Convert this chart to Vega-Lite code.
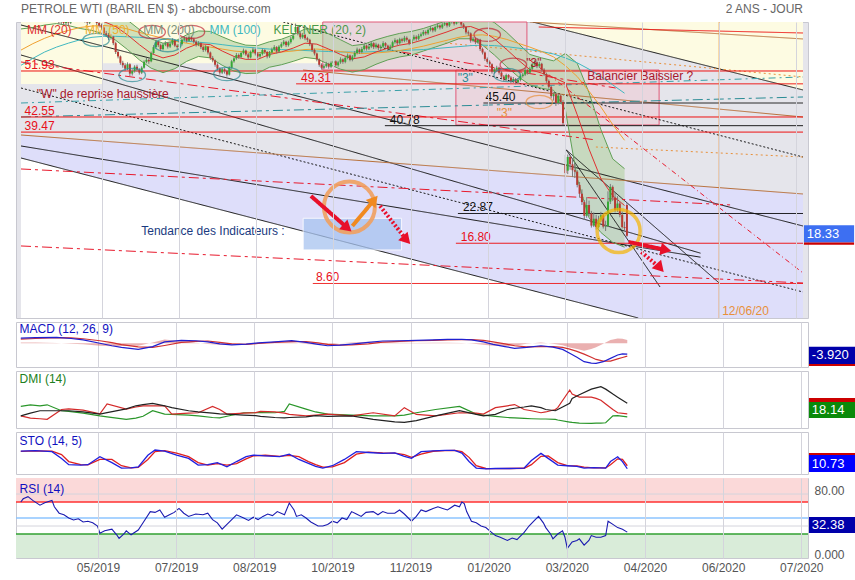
{
"$schema":"https://vega.github.io/schema/vega-lite/v6.json",
"padding":{"left":14,"top":2,"right":0,"bottom":0},
"bounds":"flush",
"spacing":4,
"background":"white",
"resolve":{"scale":{"color":"independent","strokeDash":"independent","strokeWidth":"independent"}},
"config":{"font":"Liberation Sans","view":{"stroke":"#c8c8d0"},"axis":{"gridColor":"#d4d4dc","labelColor":"#555555","labelFontSize":12,"ticks":false,"domain":false}},
"datasets":{
"c":[
{"i":2,"o":63.0,"h":63.9,"l":62.6,"c":63.4},{"i":3,"o":63.4,"h":64.2,"l":63.1,"c":63.8},{"i":4,"o":63.8,"h":64.5,"l":63.4,"c":64.0},{"i":5,"o":64.0,"h":64.3,"l":63.1,"c":63.6},{"i":6,"o":63.6,"h":64.5,"l":63.3,"c":64.1},{"i":7,"o":64.1,"h":65.0,"l":63.8,"c":64.6},{"i":8,"o":64.6,"h":65.6,"l":64.3,"c":65.2},{"i":9,"o":65.2,"h":66.3,"l":64.9,"c":65.9},{"i":10,"o":65.9,"h":66.6,"l":65.5,"c":66.2},{"i":11,"o":66.2,"h":66.5,"l":65.1,"c":65.5},
{"i":12,"o":65.5,"h":65.9,"l":64.8,"c":65.3},{"i":13,"o":65.3,"h":65.5,"l":63.5,"c":63.9},{"i":14,"o":63.9,"h":64.3,"l":62.8,"c":63.2},{"i":15,"o":63.2,"h":63.6,"l":62.1,"c":62.8},{"i":16,"o":62.8,"h":63.1,"l":61.5,"c":61.9},{"i":17,"o":61.9,"h":62.8,"l":61.4,"c":62.4},{"i":18,"o":62.4,"h":62.6,"l":61.2,"c":61.7},{"i":19,"o":61.7,"h":62.5,"l":61.3,"c":62.1},{"i":20,"o":62.1,"h":62.4,"l":61.1,"c":61.8},{"i":21,"o":61.8,"h":62.9,"l":61.5,"c":62.6},
{"i":22,"o":62.6,"h":63.3,"l":62.2,"c":62.9},{"i":23,"o":62.9,"h":63.5,"l":62.5,"c":63.1},{"i":24,"o":63.1,"h":63.4,"l":62.2,"c":62.7},{"i":25,"o":62.7,"h":63.7,"l":62.4,"c":63.4},{"i":26,"o":63.4,"h":63.6,"l":62.5,"c":62.9},{"i":27,"o":62.9,"h":63.1,"l":61.8,"c":62.2},{"i":28,"o":62.2,"h":62.5,"l":61.2,"c":61.8},{"i":29,"o":61.8,"h":62.7,"l":61.5,"c":62.4},{"i":30,"o":62.4,"h":63.2,"l":62.1,"c":62.9},{"i":31,"o":62.9,"h":63.1,"l":62.0,"c":62.5},
{"i":32,"o":62.5,"h":62.7,"l":61.3,"c":61.7},{"i":33,"o":61.7,"h":62.0,"l":60.8,"c":61.2},{"i":34,"o":61.2,"h":61.6,"l":60.3,"c":60.8},{"i":35,"o":60.8,"h":61.0,"l":59.2,"c":59.6},{"i":36,"o":59.6,"h":60.1,"l":58.9,"c":59.3},{"i":37,"o":59.3,"h":59.7,"l":58.2,"c":58.7},{"i":38,"o":58.7,"h":59.4,"l":58.3,"c":58.9},{"i":39,"o":58.9,"h":59.1,"l":57.2,"c":57.6},{"i":40,"o":57.6,"h":57.9,"l":55.4,"c":55.8},{"i":41,"o":55.8,"h":56.2,"l":54.5,"c":54.9},
{"i":42,"o":54.9,"h":55.1,"l":53.2,"c":53.6},{"i":43,"o":53.6,"h":54.0,"l":52.6,"c":53.1},{"i":44,"o":53.1,"h":53.5,"l":51.9,"c":52.4},{"i":45,"o":52.4,"h":53.7,"l":52.1,"c":53.3},{"i":46,"o":53.3,"h":53.5,"l":50.9,"c":51.4},{"i":47,"o":51.4,"h":52.3,"l":51.0,"c":51.9},{"i":48,"o":51.9,"h":53.1,"l":51.6,"c":52.8},{"i":49,"o":52.8,"h":53.2,"l":51.8,"c":52.2},{"i":50,"o":52.2,"h":52.5,"l":51.2,"c":51.6},{"i":51,"o":51.6,"h":52.9,"l":51.3,"c":52.6},
{"i":52,"o":52.6,"h":54.1,"l":52.4,"c":53.8},{"i":53,"o":53.8,"h":54.6,"l":53.5,"c":54.2},{"i":54,"o":54.2,"h":54.5,"l":53.4,"c":53.9},{"i":55,"o":53.9,"h":55.9,"l":53.7,"c":55.6},{"i":56,"o":55.6,"h":57.2,"l":55.3,"c":56.8},{"i":57,"o":56.8,"h":58.3,"l":56.5,"c":57.9},{"i":58,"o":57.9,"h":58.1,"l":56.8,"c":57.2},{"i":59,"o":57.2,"h":57.5,"l":56.0,"c":56.4},{"i":60,"o":56.4,"h":57.6,"l":56.1,"c":57.3},{"i":61,"o":57.3,"h":58.0,"l":57.0,"c":57.6},
{"i":62,"o":57.6,"h":57.8,"l":56.5,"c":56.9},{"i":63,"o":56.9,"h":57.9,"l":56.6,"c":57.5},{"i":64,"o":57.5,"h":58.6,"l":57.2,"c":58.2},{"i":65,"o":58.2,"h":58.4,"l":56.8,"c":57.1},{"i":66,"o":57.1,"h":57.4,"l":56.3,"c":56.8},{"i":67,"o":56.8,"h":57.8,"l":56.5,"c":57.4},{"i":68,"o":57.4,"h":58.6,"l":57.1,"c":58.3},{"i":69,"o":58.3,"h":59.0,"l":58.0,"c":58.6},{"i":70,"o":58.6,"h":58.9,"l":57.7,"c":58.1},{"i":71,"o":58.1,"h":59.2,"l":57.9,"c":58.8},
{"i":72,"o":58.8,"h":59.1,"l":58.0,"c":58.4},{"i":73,"o":58.4,"h":58.7,"l":57.5,"c":57.9},{"i":74,"o":57.9,"h":58.2,"l":56.9,"c":57.3},{"i":75,"o":57.3,"h":58.0,"l":57.0,"c":57.6},{"i":76,"o":57.6,"h":57.8,"l":56.4,"c":56.8},{"i":77,"o":56.8,"h":57.1,"l":55.8,"c":56.2},{"i":78,"o":56.2,"h":57.2,"l":55.9,"c":56.9},{"i":79,"o":56.9,"h":57.0,"l":55.3,"c":55.7},{"i":80,"o":55.7,"h":55.9,"l":54.2,"c":54.6},{"i":81,"o":54.6,"h":55.0,"l":53.7,"c":54.1},
{"i":82,"o":54.1,"h":54.3,"l":52.8,"c":53.2},{"i":83,"o":53.2,"h":53.5,"l":52.0,"c":52.4},{"i":84,"o":52.4,"h":52.7,"l":51.2,"c":51.6},{"i":85,"o":51.6,"h":52.6,"l":51.3,"c":52.3},{"i":86,"o":52.3,"h":52.5,"l":51.4,"c":51.9},{"i":87,"o":51.9,"h":52.2,"l":50.8,"c":51.2},{"i":88,"o":51.2,"h":52.9,"l":51.0,"c":52.6},{"i":89,"o":52.6,"h":54.2,"l":52.4,"c":53.9},{"i":90,"o":53.9,"h":54.9,"l":53.6,"c":54.5},{"i":91,"o":54.5,"h":55.6,"l":54.2,"c":55.2},
{"i":92,"o":55.2,"h":55.5,"l":54.4,"c":54.8},{"i":93,"o":54.8,"h":55.9,"l":54.5,"c":55.6},{"i":94,"o":55.6,"h":56.5,"l":55.3,"c":56.1},{"i":95,"o":56.1,"h":56.3,"l":55.0,"c":55.3},{"i":96,"o":55.3,"h":55.6,"l":54.3,"c":54.7},{"i":97,"o":54.7,"h":56.1,"l":54.5,"c":55.8},{"i":98,"o":55.8,"h":56.7,"l":55.5,"c":56.3},{"i":99,"o":56.3,"h":56.5,"l":55.1,"c":55.5},{"i":100,"o":55.5,"h":55.8,"l":54.5,"c":54.9},{"i":101,"o":54.9,"h":55.8,"l":54.6,"c":55.4},
{"i":102,"o":55.4,"h":56.5,"l":55.1,"c":56.2},{"i":103,"o":56.2,"h":56.4,"l":55.4,"c":55.8},{"i":104,"o":55.8,"h":56.0,"l":54.5,"c":54.9},{"i":105,"o":54.9,"h":56.0,"l":54.6,"c":55.7},{"i":106,"o":55.7,"h":56.7,"l":55.4,"c":56.3},{"i":107,"o":56.3,"h":57.2,"l":56.0,"c":56.8},{"i":108,"o":56.8,"h":57.0,"l":55.5,"c":55.9},{"i":109,"o":55.9,"h":57.2,"l":55.6,"c":56.9},{"i":110,"o":56.9,"h":57.8,"l":56.6,"c":57.4},{"i":111,"o":57.4,"h":58.3,"l":57.1,"c":57.9},
{"i":112,"o":57.9,"h":58.1,"l":56.8,"c":57.2},{"i":113,"o":57.2,"h":58.1,"l":56.9,"c":57.8},{"i":114,"o":57.8,"h":58.9,"l":57.5,"c":58.5},{"i":115,"o":58.5,"h":59.5,"l":58.2,"c":59.1},{"i":116,"o":59.9,"h":61.6,"l":59.6,"c":60.9},{"i":117,"o":60.9,"h":61.1,"l":59.2,"c":59.6},{"i":118,"o":59.6,"h":59.9,"l":58.4,"c":58.8},{"i":119,"o":58.8,"h":59.7,"l":58.5,"c":59.3},{"i":120,"o":59.3,"h":59.5,"l":58.2,"c":58.6},{"i":121,"o":58.6,"h":58.9,"l":57.8,"c":58.3},
{"i":122,"o":58.3,"h":58.5,"l":57.0,"c":57.4},{"i":123,"o":57.4,"h":57.6,"l":55.8,"c":56.2},{"i":124,"o":56.2,"h":56.5,"l":55.1,"c":55.5},{"i":125,"o":55.5,"h":55.7,"l":53.9,"c":54.3},{"i":126,"o":54.3,"h":54.5,"l":52.8,"c":53.2},{"i":127,"o":53.2,"h":53.5,"l":52.2,"c":52.6},{"i":128,"o":52.6,"h":53.3,"l":52.3,"c":52.9},{"i":129,"o":52.9,"h":53.8,"l":52.6,"c":53.4},{"i":130,"o":53.4,"h":53.6,"l":52.4,"c":52.8},{"i":131,"o":52.8,"h":53.9,"l":52.5,"c":53.6},
{"i":132,"o":53.6,"h":54.3,"l":53.3,"c":53.9},{"i":133,"o":53.9,"h":54.1,"l":52.8,"c":53.1},{"i":134,"o":53.1,"h":54.0,"l":52.8,"c":53.7},{"i":135,"o":53.7,"h":54.7,"l":53.4,"c":54.3},{"i":136,"o":54.3,"h":54.5,"l":53.4,"c":53.8},{"i":137,"o":53.8,"h":54.9,"l":53.5,"c":54.6},{"i":138,"o":54.6,"h":55.5,"l":54.3,"c":55.1},{"i":139,"o":55.1,"h":55.3,"l":53.9,"c":54.2},{"i":140,"o":54.2,"h":55.2,"l":53.9,"c":54.9},{"i":141,"o":54.9,"h":56.0,"l":54.6,"c":55.6},
{"i":142,"o":55.6,"h":56.7,"l":55.3,"c":56.3},{"i":143,"o":56.3,"h":56.5,"l":55.4,"c":55.8},{"i":144,"o":55.8,"h":56.8,"l":55.5,"c":56.4},{"i":145,"o":56.4,"h":57.5,"l":56.1,"c":57.1},{"i":146,"o":57.1,"h":57.3,"l":56.1,"c":56.5},{"i":147,"o":56.5,"h":57.3,"l":56.2,"c":56.9},{"i":148,"o":56.9,"h":58.0,"l":56.6,"c":57.6},{"i":149,"o":57.6,"h":57.8,"l":56.4,"c":56.8},{"i":150,"o":56.8,"h":57.7,"l":56.5,"c":57.3},{"i":151,"o":57.3,"h":57.5,"l":56.2,"c":56.6},
{"i":152,"o":56.6,"h":57.3,"l":56.2,"c":56.9},{"i":153,"o":56.9,"h":58.0,"l":56.6,"c":57.6},{"i":154,"o":57.6,"h":57.8,"l":56.7,"c":57.1},{"i":155,"o":57.1,"h":57.3,"l":56.0,"c":56.4},{"i":156,"o":56.4,"h":57.3,"l":56.1,"c":56.9},{"i":157,"o":56.9,"h":58.1,"l":56.6,"c":57.8},{"i":158,"o":57.8,"h":58.6,"l":57.5,"c":58.2},{"i":159,"o":58.2,"h":58.4,"l":57.2,"c":57.6},{"i":160,"o":57.6,"h":58.7,"l":57.3,"c":58.4},{"i":161,"o":58.4,"h":58.7,"l":57.7,"c":58.1},
{"i":162,"o":58.1,"h":59.1,"l":57.8,"c":58.7},{"i":163,"o":58.7,"h":59.0,"l":57.9,"c":58.3},{"i":164,"o":58.3,"h":58.5,"l":57.2,"c":57.6},{"i":165,"o":57.6,"h":58.7,"l":57.3,"c":58.4},{"i":166,"o":58.4,"h":59.3,"l":58.1,"c":58.9},{"i":167,"o":58.9,"h":59.2,"l":58.1,"c":58.5},{"i":168,"o":58.5,"h":59.5,"l":58.2,"c":59.1},{"i":169,"o":59.1,"h":59.8,"l":58.8,"c":59.4},{"i":170,"o":59.4,"h":60.3,"l":59.1,"c":59.9},{"i":171,"o":59.9,"h":60.2,"l":59.2,"c":59.6},
{"i":172,"o":59.6,"h":60.6,"l":59.3,"c":60.3},{"i":173,"o":60.3,"h":61.1,"l":60.0,"c":60.7},{"i":174,"o":60.7,"h":60.9,"l":59.8,"c":60.2},{"i":175,"o":60.2,"h":61.2,"l":59.9,"c":60.9},{"i":176,"o":60.9,"h":61.6,"l":60.6,"c":61.2},{"i":177,"o":61.2,"h":61.4,"l":60.4,"c":60.8},{"i":178,"o":60.8,"h":61.7,"l":60.5,"c":61.4},{"i":179,"o":61.4,"h":62.1,"l":61.1,"c":61.7},{"i":180,"o":61.7,"h":61.9,"l":60.8,"c":61.2},{"i":181,"o":61.2,"h":62.3,"l":60.9,"c":61.9},
{"i":182,"o":61.9,"h":62.8,"l":61.6,"c":62.4},{"i":183,"o":62.4,"h":62.6,"l":61.2,"c":61.6},{"i":184,"o":61.6,"h":63.6,"l":61.4,"c":62.8},{"i":185,"o":62.8,"h":63.0,"l":61.7,"c":62.1},{"i":186,"o":62.1,"h":62.3,"l":61.0,"c":61.4},{"i":187,"o":61.4,"h":61.7,"l":60.5,"c":60.9},{"i":188,"o":60.9,"h":61.1,"l":59.4,"c":59.8},{"i":189,"o":59.8,"h":60.2,"l":59.1,"c":59.6},{"i":190,"o":59.6,"h":59.8,"l":57.7,"c":58.1},{"i":191,"o":58.1,"h":58.9,"l":57.8,"c":58.5},
{"i":192,"o":58.5,"h":58.7,"l":57.4,"c":57.8},{"i":193,"o":57.8,"h":58.6,"l":57.5,"c":58.3},{"i":194,"o":58.3,"h":58.5,"l":56.0,"c":56.4},{"i":195,"o":56.4,"h":56.7,"l":55.3,"c":55.7},{"i":196,"o":55.7,"h":55.9,"l":54.0,"c":54.4},{"i":197,"o":54.4,"h":54.7,"l":53.4,"c":53.8},{"i":198,"o":53.8,"h":54.1,"l":52.9,"c":53.3},{"i":199,"o":53.3,"h":53.5,"l":51.4,"c":51.8},{"i":200,"o":51.8,"h":52.6,"l":51.4,"c":52.2},{"i":201,"o":52.2,"h":53.0,"l":51.9,"c":52.6},
{"i":202,"o":52.6,"h":52.8,"l":51.2,"c":51.6},{"i":203,"o":51.6,"h":51.9,"l":50.4,"c":50.8},{"i":204,"o":50.8,"h":51.1,"l":49.8,"c":50.2},{"i":205,"o":50.2,"h":51.4,"l":49.9,"c":51.1},{"i":206,"o":51.1,"h":51.3,"l":50.2,"c":50.6},{"i":207,"o":50.6,"h":50.9,"l":49.4,"c":49.8},{"i":208,"o":49.8,"h":50.7,"l":49.5,"c":50.3},{"i":209,"o":50.3,"h":50.5,"l":49.2,"c":49.6},{"i":210,"o":49.6,"h":50.5,"l":49.3,"c":50.1},{"i":211,"o":50.1,"h":51.2,"l":49.8,"c":50.9},
{"i":212,"o":50.9,"h":51.6,"l":50.6,"c":51.2},{"i":213,"o":51.2,"h":52.5,"l":50.9,"c":52.1},{"i":214,"o":52.1,"h":52.3,"l":51.2,"c":51.6},{"i":215,"o":51.6,"h":52.8,"l":51.3,"c":52.4},{"i":216,"o":52.4,"h":53.6,"l":52.1,"c":53.3},{"i":217,"o":53.3,"h":54.1,"l":53.0,"c":53.7},{"i":218,"o":53.7,"h":53.9,"l":52.5,"c":52.9},{"i":219,"o":52.9,"h":53.8,"l":52.6,"c":53.4},{"i":220,"o":53.4,"h":53.6,"l":51.8,"c":52.2},{"i":221,"o":52.2,"h":52.5,"l":50.9,"c":51.3},
{"i":222,"o":51.3,"h":51.5,"l":49.5,"c":49.9},{"i":223,"o":49.9,"h":50.2,"l":48.3,"c":48.7},{"i":224,"o":48.7,"h":49.0,"l":46.4,"c":46.8},{"i":225,"o":46.8,"h":47.6,"l":45.9,"c":47.2},{"i":226,"o":47.2,"h":47.5,"l":44.8,"c":45.4},{"i":227,"o":45.4,"h":47.3,"l":45.1,"c":46.9},{"i":228,"o":46.9,"h":47.1,"l":45.2,"c":45.6},{"i":229,"o":45.6,"h":46.0,"l":40.9,"c":41.3},{"i":230,"o":32.9,"h":34.8,"l":27.3,"c":31.1},{"i":231,"o":31.6,"h":34.9,"l":30.9,"c":34.4},
{"i":232,"o":34.4,"h":34.6,"l":31.8,"c":32.9},{"i":233,"o":32.9,"h":33.9,"l":30.3,"c":31.7},{"i":234,"o":31.7,"h":33.2,"l":30.1,"c":31.4},{"i":235,"o":31.4,"h":31.7,"l":28.2,"c":28.7},{"i":236,"o":28.7,"h":29.3,"l":26.1,"c":26.9},{"i":237,"o":26.9,"h":27.8,"l":24.6,"c":25.2},{"i":238,"o":25.2,"h":25.6,"l":21.6,"c":22.4},{"i":239,"o":22.4,"h":26.2,"l":22.0,"c":24.6},{"i":240,"o":24.6,"h":25.5,"l":22.3,"c":22.9},{"i":241,"o":22.9,"h":23.4,"l":20.0,"c":20.4},
{"i":242,"o":20.4,"h":23.1,"l":20.1,"c":21.8},{"i":243,"o":21.8,"h":22.6,"l":19.6,"c":20.1},{"i":244,"o":20.1,"h":22.4,"l":19.9,"c":21.6},{"i":245,"o":21.6,"h":23.2,"l":21.1,"c":22.5},{"i":246,"o":22.5,"h":22.9,"l":19.8,"c":20.2},{"i":247,"o":20.2,"h":21.4,"l":19.3,"c":20.3},{"i":248,"o":20.3,"h":27.4,"l":20.1,"c":25.3},{"i":249,"o":25.3,"h":28.9,"l":24.8,"c":28.3},{"i":250,"o":28.3,"h":28.6,"l":25.4,"c":26.1},{"i":251,"o":26.1,"h":27.1,"l":23.1,"c":23.6},
{"i":252,"o":23.6,"h":26.4,"l":23.2,"c":24.9},{"i":253,"o":24.9,"h":25.3,"l":22.1,"c":22.6},{"i":254,"o":22.6,"h":23.3,"l":19.8,"c":20.1},{"i":255,"o":20.1,"h":21.2,"l":19.2,"c":19.9},{"i":256,"o":24.6,"h":25.0,"l":18.1,"c":18.33}
],
"ma":[
{"i":0,"m20":63.0,"ku":65.5,"kl":60.5,"m50":56.2,"m100":53.1},{"i":5,"m20":63.3,"ku":65.8,"kl":60.8,"m50":57.5,"m100":54.5},{"i":10,"m20":63.8,"ku":66.3,"kl":61.3,"m50":58.6,"m100":55.8},{"i":15,"m20":64.2,"ku":66.8,"kl":61.6,"m50":59.5,"m100":56.8},{"i":20,"m20":63.8,"ku":66.4,"kl":61.2,"m50":60.2,"m100":57.6},{"i":25,"m20":63.2,"ku":65.8,"kl":60.6,"m50":60.8,"m100":58.3},{"i":30,"m20":62.6,"ku":65.0,"kl":60.2,"m50":61.1,"m100":58.8},{"i":35,"m20":62.0,"ku":64.5,"kl":59.5,"m50":61.2,"m100":59.0},{"i":40,"m20":61.0,"ku":63.8,"kl":58.2,"m50":61.0,"m100":59.0},{"i":45,"m20":59.3,"ku":62.3,"kl":56.3,"m50":60.5,"m100":58.9},
{"i":50,"m20":57.3,"ku":60.4,"kl":54.2,"m50":59.8,"m100":58.8},{"i":55,"m20":55.5,"ku":58.5,"kl":52.5,"m50":59.2,"m100":58.6},{"i":60,"m20":54.6,"ku":57.6,"kl":51.6,"m50":58.6,"m100":58.4},{"i":65,"m20":55.2,"ku":58.0,"kl":52.4,"m50":58.0,"m100":58.2},{"i":70,"m20":56.6,"ku":59.3,"kl":53.9,"m50":57.6,"m100":58.0},{"i":75,"m20":57.5,"ku":60.1,"kl":54.9,"m50":57.2,"m100":57.8},{"i":80,"m20":57.3,"ku":60.0,"kl":54.6,"m50":56.8,"m100":57.6},{"i":85,"m20":56.0,"ku":58.9,"kl":53.1,"m50":56.4,"m100":57.3},{"i":90,"m20":54.9,"ku":57.9,"kl":51.9,"m50":56.0,"m100":57.0},{"i":95,"m20":54.3,"ku":57.2,"kl":51.4,"m50":55.8,"m100":56.8},
{"i":100,"m20":54.3,"ku":57.1,"kl":51.5,"m50":55.7,"m100":56.6},{"i":105,"m20":55.3,"ku":57.9,"kl":52.7,"m50":55.7,"m100":56.4},{"i":110,"m20":55.8,"ku":58.4,"kl":53.2,"m50":55.8,"m100":56.3},{"i":115,"m20":56.6,"ku":59.3,"kl":53.9,"m50":56.0,"m100":56.2},{"i":120,"m20":57.6,"ku":60.5,"kl":54.7,"m50":56.3,"m100":56.1},{"i":125,"m20":57.4,"ku":60.4,"kl":54.4,"m50":56.4,"m100":56.0},{"i":130,"m20":56.4,"ku":59.5,"kl":53.3,"m50":56.2,"m100":55.9},{"i":135,"m20":55.3,"ku":58.3,"kl":52.3,"m50":55.9,"m100":55.8},{"i":140,"m20":54.4,"ku":57.1,"kl":51.7,"m50":55.6,"m100":55.8},{"i":145,"m20":54.8,"ku":57.4,"kl":52.2,"m50":55.5,"m100":55.8},
{"i":150,"m20":55.8,"ku":58.3,"kl":53.3,"m50":55.6,"m100":55.9},{"i":155,"m20":56.6,"ku":59.0,"kl":54.2,"m50":55.8,"m100":56.0},{"i":160,"m20":57.2,"ku":59.6,"kl":54.8,"m50":56.1,"m100":56.1},{"i":165,"m20":57.6,"ku":60.0,"kl":55.2,"m50":56.5,"m100":56.2},{"i":170,"m20":58.3,"ku":60.6,"kl":56.0,"m50":57.0,"m100":56.3},{"i":175,"m20":59.1,"ku":61.4,"kl":56.8,"m50":57.6,"m100":56.5},{"i":180,"m20":59.9,"ku":62.2,"kl":57.6,"m50":58.2,"m100":56.7},{"i":185,"m20":60.8,"ku":63.1,"kl":58.5,"m50":58.8,"m100":56.9},{"i":190,"m20":61.0,"ku":63.5,"kl":58.5,"m50":59.2,"m100":57.1},{"i":195,"m20":60.1,"ku":63.0,"kl":57.2,"m50":59.3,"m100":57.2},
{"i":200,"m20":58.5,"ku":61.8,"kl":55.2,"m50":59.0,"m100":57.1},{"i":205,"m20":56.4,"ku":59.9,"kl":52.9,"m50":58.4,"m100":56.9},{"i":210,"m20":54.2,"ku":57.6,"kl":50.8,"m50":57.6,"m100":56.6},{"i":215,"m20":52.2,"ku":55.3,"kl":49.1,"m50":56.8,"m100":56.3},{"i":220,"m20":51.5,"ku":54.6,"kl":48.4,"m50":55.9,"m100":55.9},{"i":225,"m20":50.6,"ku":54.0,"kl":48.0,"m50":54.8,"m100":55.4},{"i":230,"m20":49.5,"ku":55.5,"kl":44.0,"m50":53.0,"m100":54.6},{"i":235,"m20":43.0,"ku":53.5,"kl":30.0,"m50":50.8,"m100":53.6},{"i":240,"m20":36.0,"ku":47.5,"kl":22.0,"m50":47.8,"m100":52.3},{"i":245,"m20":30.0,"ku":40.0,"kl":19.0,"m50":44.6,"m100":50.8},
{"i":250,"m20":26.5,"ku":34.0,"kl":17.0,"m50":41.0,"m100":49.1},{"i":255,"m20":24.5,"ku":32.0,"kl":16.0,"m50":37.8,"m100":47.4}
],
"tl":[
{"id":"L1","k":"black","i":0,"v":34.19},{"id":"L1","k":"black","i":260.8,"v":1.56},
{"id":"L2","k":"black","i":0,"v":36.64},{"id":"L2","k":"black","i":287.1,"v":13.96},
{"id":"L3","k":"black","i":0,"v":61.31},{"id":"L3","k":"black","i":330.4,"v":20.32},
{"id":"L4","k":"black","i":216.25,"v":61.92},{"id":"L4","k":"black","i":330.4,"v":48.06},
{"id":"L5","k":"black","i":230.4,"v":35.82},{"id":"L5","k":"black","i":270,"v":7.88},
{"id":"L6","k":"black","i":230.4,"v":35.82},{"id":"L6","k":"black","i":295,"v":8.7},
{"id":"L7","k":"black","i":0,"v":55.19},{"id":"L7","k":"black","i":287.1,"v":14.78},
{"id":"D1","k":"dot","i":0,"v":48.46},{"id":"D1","k":"dot","i":330.4,"v":6.86},
{"id":"D2","k":"dot","i":110.8,"v":61.92},{"id":"D2","k":"dot","i":330.4,"v":34.39},
{"id":"B1","k":"brown","i":0,"v":38.88},{"id":"B1","k":"brown","i":330.4,"v":26.85},
{"id":"B2","k":"brown","i":119.2,"v":52.13},{"id":"B2","k":"brown","i":330.4,"v":42.55},
{"id":"B3","k":"brown","i":215,"v":61.92},{"id":"B3","k":"brown","i":330.4,"v":58.46},
{"id":"HR0","k":"hred","i":218.75,"v":60.9},{"id":"HR0","k":"hred","i":330.4,"v":59.68},
{"id":"R1","k":"reddd","i":0,"v":53.77},{"id":"R1","k":"reddd","i":242.9,"v":37.86},
{"id":"R2","k":"reddd","i":160.8,"v":55.8},{"id":"R2","k":"reddd","i":251.25,"v":48.46},
{"id":"R3","k":"reddd","i":0,"v":31.95},{"id":"R3","k":"reddd","i":300.4,"v":24.6},
{"id":"R4","k":"reddd","i":0,"v":16.25},{"id":"R4","k":"reddd","i":330.4,"v":8.7},
{"id":"R5","k":"redthin","i":215,"v":54.17},{"id":"R5","k":"redthin","i":330.4,"v":10.74},
{"id":"T1","k":"teal","i":0,"v":42.55},{"id":"T1","k":"teal","i":330.4,"v":46.63},
{"id":"T2","k":"tealthin","i":0,"v":45.4},{"id":"T2","k":"tealthin","i":330.4,"v":50.71},
{"id":"O1","k":"odot","i":179.2,"v":57.64},{"id":"O1","k":"odot","i":330.4,"v":50.71},
{"id":"O2","k":"odot","i":242.9,"v":36.43},{"id":"O2","k":"odot","i":330.4,"v":34.39},
{"id":"H1","k":"hred","i":0,"v":51.93},{"id":"H1","k":"hred","i":330.4,"v":51.93},
{"id":"H2","k":"hred","i":116.25,"v":49.31},{"id":"H2","k":"hred","i":330.4,"v":49.31},
{"id":"H3","k":"hred","i":0,"v":42.55},{"id":"H3","k":"hred","i":330.4,"v":42.55},
{"id":"H4","k":"hred","i":0,"v":39.47},{"id":"H4","k":"hred","i":330.4,"v":39.47},
{"id":"H5","k":"hred","i":183.75,"v":16.8},{"id":"H5","k":"hred","i":330.4,"v":16.8},
{"id":"H6","k":"hred2","i":123.3,"v":8.6},{"id":"H6","k":"hred2","i":330.4,"v":8.6},
{"id":"H7","k":"hblack","i":195.4,"v":45.4},{"id":"H7","k":"hblack","i":330.4,"v":45.4},
{"id":"H8","k":"hblack","i":153.75,"v":40.78},{"id":"H8","k":"hblack","i":330.4,"v":40.78},
{"id":"H9","k":"hblack","i":184.6,"v":22.87},{"id":"H9","k":"hblack","i":330.4,"v":22.87},
{"id":"V1","k":"vorange","i":295,"v":61.92},{"id":"V1","k":"vorange","i":295.001,"v":1.56}
],
"lab":[
{"t":"51.93","k":"hred","i":1.5,"v":51.93},{"t":"49.31","k":"hred","i":118.3,"v":49.31},{"t":"42.55","k":"hred","i":1.5,"v":42.55},{"t":"39.47","k":"hred","i":1.5,"v":39.47},{"t":"16.80","k":"hred","i":185.8,"v":16.8},{"t":"8.60","k":"hred","i":124.6,"v":8.6},{"t":"45.40","k":"hblack","i":196.25,"v":45.4},{"t":"40.78","k":"hblack","i":155.8,"v":40.78},{"t":"22.87","k":"hblack","i":186.7,"v":22.87}
],
"ann":[
{"t":"MM (20)","k":"mm20","i":2.5,"v":60.29},{"t":"MM (50)","k":"mm50","i":27,"v":60.29},{"t":"MM (200)","k":"mm200","i":51.7,"v":60.29},{"t":"MM (100)","k":"mm100","i":79.6,"v":60.29},{"t":"KELTNER (20, 2)","k":"kelt","i":106.7,"v":60.29},
{"t":"\"W\" de reprise haussière","k":"dred","i":6.7,"v":47.18},{"t":"Balancier Baissier ?","k":"dred","i":239.2,"v":50.91},{"t":"\"3\"","k":"teal","i":184.5,"v":50.44},{"t":"\"3\"","k":"dred","i":213.5,"v":53.5},{"t":"\"3\"","k":"orange","i":201,"v":43.3},{"t":"Tendance des Indicateurs :","k":"navy","i":50.8,"v":19.3},{"t":"12/06/20","k":"orange","i":296.25,"v":2.99}
],
"ell":[
{"k":"teal","i":31.7,"v":58.25},{"k":"teal","i":62,"v":57.2},{"k":"teal","i":47,"v":51.1},{"k":"teal","i":87,"v":51.3},{"k":"teal","i":205.4,"v":51.1},{"k":"dred","i":55.4,"v":59.9},{"k":"dred","i":72,"v":59.9},{"k":"dred","i":197,"v":59.3},{"k":"dred","i":208,"v":53.2},{"k":"orange","i":219,"v":45.6}
],
"arr":[
{"id":"a1","k":"red","i":122.5,"v":26.44},{"id":"a1","k":"red","i":137.9,"v":19.92},
{"id":"a2","k":"orange","i":140,"v":20.32},{"id":"a2","k":"orange","i":149.2,"v":25.63},
{"id":"a3","k":"reddot","i":151.7,"v":24.4},{"id":"a3","k":"reddot","i":162.9,"v":17.47},
{"id":"a4","k":"red","i":256.7,"v":17.06},{"id":"a4","k":"red","i":272.5,"v":15.43},
{"id":"a5","k":"reddot","i":262.1,"v":15.02},{"id":"a5","k":"reddot","i":270,"v":11.76}
],
"macd":[
{"i":2,"m":1.8,"s":1.5,"h":0.3},{"i":8,"m":2.0,"s":1.7,"h":0.3},{"i":17,"m":2.1,"s":2.0,"h":0.1},{"i":23,"m":1.7,"s":1.9,"h":-0.2},{"i":28,"m":1.2,"s":1.6,"h":-0.4},{"i":35,"m":0.0,"s":0.9,"h":-0.9},{"i":40,"m":-0.9,"s":0.2,"h":-1.1},{"i":44,"m":-1.5,"s":-0.5,"h":-1.0},{"i":51,"m":-2.2,"s":-1.3,"h":-0.9},{"i":57,"m":-1.2,"s":-1.5,"h":0.3},
{"i":62,"m":0.5,"s":-0.8,"h":1.3},{"i":69,"m":1.0,"s":0.3,"h":0.7},{"i":75,"m":0.9,"s":0.7,"h":0.2},{"i":80,"m":0.5,"s":0.8,"h":-0.3},{"i":85,"m":-0.2,"s":0.3,"h":-0.5},{"i":90,"m":-0.6,"s":-0.2,"h":-0.4},{"i":96,"m":-0.3,"s":-0.4,"h":0.1},{"i":101,"m":0.1,"s":-0.1,"h":0.2},{"i":108,"m":0.5,"s":0.3,"h":0.2},{"i":115,"m":0.9,"s":0.6,"h":0.3},
{"i":121,"m":0.3,"s":0.6,"h":-0.3},{"i":126,"m":-0.4,"s":0.1,"h":-0.5},{"i":130,"m":-0.9,"s":-0.4,"h":-0.5},{"i":135,"m":-0.7,"s":-0.7,"h":0.0},{"i":140,"m":-0.3,"s":-0.6,"h":0.3},{"i":147,"m":0.3,"s":-0.2,"h":0.5},{"i":153,"m":0.8,"s":0.4,"h":0.4},{"i":160,"m":0.9,"s":0.7,"h":0.2},{"i":167,"m":1.0,"s":0.9,"h":0.1},{"i":174,"m":1.2,"s":1.0,"h":0.2},
{"i":180,"m":1.4,"s":1.2,"h":0.2},{"i":186,"m":1.4,"s":1.3,"h":0.1},{"i":190,"m":1.2,"s":1.3,"h":-0.1},{"i":195,"m":0.5,"s":1.0,"h":-0.5},{"i":199,"m":-0.4,"s":0.5,"h":-0.9},{"i":204,"m":-1.2,"s":-0.2,"h":-1.0},{"i":208,"m":-1.8,"s":-0.9,"h":-0.9},{"i":213,"m":-1.5,"s":-1.3,"h":-0.2},{"i":219,"m":-0.9,"s":-1.2,"h":0.3},{"i":224,"m":-1.4,"s":-1.2,"h":-0.2},
{"i":228,"m":-2.2,"s":-1.5,"h":-0.7},{"i":231,"m":-3.6,"s":-2.1,"h":-1.5},{"i":234,"m":-5.0,"s":-2.9,"h":-2.1},{"i":237,"m":-6.6,"s":-3.9,"h":-2.7},{"i":240,"m":-7.1,"s":-5.0,"h":-2.1},{"i":242,"m":-7.2,"s":-5.8,"h":-1.4},{"i":245,"m":-6.6,"s":-6.4,"h":-0.2},{"i":248,"m":-5.4,"s":-6.4,"h":1.2},{"i":251,"m":-4.2,"s":-5.6,"h":1.7},{"i":253,"m":-3.8,"s":-5.1,"h":1.6},{"i":255,"m":-3.92,"s":-4.6,"h":1.2}
],
"dmi":[
{"i":2,"p":35,"n":19.6,"a":19.6},{"i":6,"p":37.6,"n":16,"a":24},{"i":10,"p":36,"n":15,"a":28},{"i":13,"p":37.6,"n":14,"a":28},{"i":19,"p":28,"n":30,"a":28},{"i":22,"p":27,"n":31,"a":28},{"i":28,"p":24,"n":29,"a":26},{"i":35,"p":19.6,"n":23,"a":22.5},{"i":38,"p":18,"n":39,"a":25},{"i":46,"p":14,"n":30.6,"a":31},
{"i":50,"p":16,"n":34,"a":36},{"i":53,"p":19,"n":36,"a":38},{"i":57,"p":28,"n":36,"a":40},{"i":62,"p":22.5,"n":36,"a":36},{"i":65,"p":22,"n":22.5,"a":33},{"i":72,"p":21,"n":24,"a":28},{"i":76,"p":19.6,"n":24.7,"a":26},{"i":82,"p":17,"n":35,"a":24},{"i":85,"p":16.3,"n":30,"a":23},{"i":88,"p":19,"n":22.5,"a":22.5},
{"i":95,"p":24.7,"n":24,"a":21},{"i":100,"p":24.7,"n":25,"a":20},{"i":102,"p":25,"n":27,"a":19},{"i":108,"p":24.7,"n":26,"a":17},{"i":112,"p":27,"n":24,"a":16.3},{"i":114,"p":39,"n":22,"a":17},{"i":121,"p":30.6,"n":19.6,"a":18},{"i":125,"p":26,"n":21,"a":20},{"i":130,"p":22.5,"n":22.5,"a":19},{"i":140,"p":21,"n":19.6,"a":19.6},
{"i":149,"p":19.6,"n":24.7,"a":14},{"i":158,"p":19.6,"n":19.6,"a":10},{"i":162,"p":21,"n":33,"a":9},{"i":167,"p":24.7,"n":22,"a":12},{"i":175,"p":30,"n":19.6,"a":19.6},{"i":185,"p":35,"n":24.7,"a":28},{"i":192,"p":22.5,"n":24,"a":22},{"i":195,"p":21,"n":22.5,"a":19.6},{"i":200,"p":19,"n":33,"a":22},{"i":205,"p":17,"n":36,"a":30},
{"i":208,"p":16.3,"n":38,"a":32},{"i":212,"p":15.5,"n":30,"a":34},{"i":215,"p":15,"n":28,"a":36},{"i":219,"p":14.6,"n":24.7,"a":33},{"i":221,"p":14.6,"n":26,"a":30},{"i":225,"p":14,"n":30,"a":28},{"i":226,"p":13,"n":33,"a":30},{"i":231,"p":9.6,"n":61.6,"a":40},{"i":232,"p":9,"n":55,"a":48},{"i":235,"p":8,"n":50,"a":54},
{"i":240,"p":7.4,"n":50,"a":63},{"i":242,"p":7.8,"n":48,"a":65},{"i":244,"p":8,"n":45,"a":67},{"i":246,"p":8.5,"n":39,"a":63},{"i":249,"p":19.6,"n":30,"a":55},{"i":251,"p":20,"n":24.7,"a":50},{"i":255,"p":18.14,"n":23,"a":40}
],
"sto":[
{"i":2,"k":95,"d":93},{"i":8,"k":97,"d":96},{"i":15,"k":92,"d":95},{"i":19,"k":60,"d":78},{"i":22,"k":30,"d":45},{"i":27,"k":28,"d":30},{"i":30,"k":30,"d":29},{"i":35,"k":68,"d":55},{"i":40,"k":40,"d":55},{"i":44,"k":14,"d":25},
{"i":48,"k":15,"d":15},{"i":51,"k":20,"d":17},{"i":55,"k":75,"d":55},{"i":58,"k":100,"d":92},{"i":62,"k":95,"d":97},{"i":67,"k":76,"d":85},{"i":72,"k":60,"d":68},{"i":76,"k":28,"d":40},{"i":80,"k":30,"d":28},{"i":84,"k":40,"d":35},
{"i":88,"k":20,"d":28},{"i":92,"k":45,"d":35},{"i":96,"k":68,"d":58},{"i":99,"k":76,"d":72},{"i":104,"k":72,"d":75},{"i":110,"k":68,"d":70},{"i":114,"k":80,"d":74},{"i":118,"k":55,"d":68},{"i":122,"k":36,"d":45},{"i":125,"k":22,"d":30},
{"i":128,"k":14,"d":18},{"i":132,"k":25,"d":20},{"i":137,"k":55,"d":40},{"i":142,"k":92,"d":80},{"i":147,"k":88,"d":90},{"i":153,"k":84,"d":86},{"i":158,"k":86,"d":85},{"i":162,"k":70,"d":78},{"i":165,"k":60,"d":65},{"i":169,"k":92,"d":80},
{"i":174,"k":96,"d":94},{"i":179,"k":98,"d":97},{"i":183,"k":98,"d":98},{"i":186,"k":85,"d":92},{"i":189,"k":45,"d":65},{"i":192,"k":14,"d":25},{"i":196,"k":10,"d":12},{"i":200,"k":12,"d":11},{"i":206,"k":12,"d":12},{"i":212,"k":14,"d":13},
{"i":215,"k":50,"d":30},{"i":219,"k":84,"d":70},{"i":222,"k":60,"d":72},{"i":226,"k":28,"d":40},{"i":230,"k":25,"d":26},{"i":234,"k":22,"d":24},{"i":237,"k":14,"d":18},{"i":241,"k":16,"d":15},{"i":246,"k":14,"d":15},{"i":248,"k":45,"d":30},
{"i":251,"k":68,"d":58},{"i":253,"k":45,"d":55},{"i":255,"k":10.73,"d":25}
],
"rsi":[
{"i":2,"r":70},{"i":3,"r":74},{"i":5,"r":76.7},{"i":7,"r":72},{"i":9,"r":68},{"i":10,"r":66},{"i":12,"r":69},{"i":15,"r":72},{"i":16,"r":64},{"i":18,"r":56},{"i":20,"r":54},{"i":22,"r":50},{"i":24,"r":47.5},{"i":26,"r":49},{"i":28,"r":45},{"i":30,"r":46},{"i":32,"r":44},{"i":34,"r":40},{"i":35,"r":31},{"i":37,"r":34},
{"i":40,"r":36},{"i":42,"r":29},{"i":43,"r":24.6},{"i":45,"r":30},{"i":46,"r":34},{"i":48,"r":29},{"i":51,"r":35},{"i":53,"r":44},{"i":56,"r":58},{"i":58,"r":57},{"i":60,"r":60},{"i":62,"r":51},{"i":64,"r":54},{"i":66,"r":57},{"i":68,"r":62},{"i":70,"r":56},{"i":72,"r":52},{"i":75,"r":55},{"i":78,"r":54},{"i":80,"r":56},
{"i":82,"r":48},{"i":84,"r":44},{"i":86,"r":36},{"i":88,"r":42},{"i":90,"r":48},{"i":92,"r":54},{"i":95,"r":50},{"i":97,"r":47},{"i":99,"r":51},{"i":101,"r":48},{"i":103,"r":52},{"i":105,"r":55},{"i":107,"r":53},{"i":109,"r":58},{"i":112,"r":54},{"i":114,"r":68.7},{"i":116,"r":60},{"i":117,"r":52},{"i":119,"r":54},{"i":121,"r":50},
{"i":123,"r":45},{"i":126,"r":40},{"i":128,"r":40},{"i":130,"r":42},{"i":132,"r":46},{"i":134,"r":44},{"i":136,"r":50},{"i":138,"r":48},{"i":140,"r":58},{"i":142,"r":55},{"i":144,"r":52},{"i":146,"r":57},{"i":149,"r":58},{"i":151,"r":54},{"i":153,"r":58},{"i":155,"r":56},{"i":158,"r":56},{"i":160,"r":60},{"i":162,"r":55},{"i":165,"r":46},
{"i":167,"r":52},{"i":169,"r":60},{"i":171,"r":58},{"i":174,"r":62},{"i":176,"r":64},{"i":178,"r":62},{"i":180,"r":60},{"i":183,"r":66},{"i":185,"r":64},{"i":186,"r":70},{"i":187,"r":68},{"i":188,"r":58},{"i":190,"r":46},{"i":192,"r":44},{"i":194,"r":40},{"i":196,"r":38},{"i":198,"r":33},{"i":200,"r":28},{"i":202,"r":26},{"i":205,"r":22},
{"i":207,"r":25},{"i":209,"r":23},{"i":210,"r":26},{"i":212,"r":32},{"i":214,"r":40},{"i":216,"r":46},{"i":218,"r":52},{"i":220,"r":44},{"i":221,"r":38},{"i":223,"r":30},{"i":224,"r":24},{"i":226,"r":30},{"i":228,"r":34},{"i":229,"r":26},{"i":230,"r":12},{"i":232,"r":20},{"i":234,"r":22},{"i":235,"r":24},{"i":237,"r":16},{"i":239,"r":22},
{"i":240,"r":28},{"i":242,"r":26},{"i":244,"r":26},{"i":246,"r":28},{"i":247,"r":46},{"i":249,"r":42},{"i":251,"r":38},{"i":253,"r":36},{"i":255,"r":32.38}
]
},
"vconcat":[
{
"width":792,"height":296,
"view":{"fill":"#e5e5eb","stroke":"#c8c8d0"},
"resolve":{"scale":{"color":"independent","strokeDash":"independent","strokeWidth":"independent"}},
"encoding":{"x":{"field":"i","type":"quantitative","scale":{"domain":[0,330.4],"nice":false,"zero":false},"axis":{"values":[34.2,66.8,99.4,132,164.6,197.2,229.8,262.4,295,327.6],"grid":true,"labels":false,"title":null,"zindex":1}}},
"layer":[
{"data":{"values":[{"i":0,"top":38.88,"bot":34.19},{"i":260.8,"top":29.38,"bot":1.56},{"i":330.4,"top":26.85,"bot":1.56}]},"mark":{"type":"area","color":"#dedefa","opacity":1},"encoding":{"y":{"field":"top","type":"quantitative","scale":{"domain":[1.56,61.92],"nice":false,"zero":false},"axis":{"orient":"right","values":[9,18,27,36,45,54],"labelExpr":"datum.value==18?'':format(datum.value,'.2f')","grid":true,"title":null,"labelPadding":6,"labelOffset":-2,"zindex":1}},"y2":{"field":"bot"}}},
{"data":{"values":[{"i":0,"top":34.19,"bot":1.56},{"i":260.8,"top":1.56,"bot":1.56}]},"mark":{"type":"area","color":"#ffffff"},"encoding":{"y":{"field":"top","type":"quantitative","scale":{"domain":[1.56,61.92],"nice":false,"zero":false},"axis":null},"y2":{"field":"bot"}}},
{"data":{"values":[{"i":0,"top":61.92,"bot":49.28},{"i":34.6,"top":61.92,"bot":49.28},{"i":34.7,"top":61.92,"bot":53.5},{"i":127.5,"top":61.92,"bot":53.5}]},"mark":{"type":"area","color":"#fdfbe2"},"encoding":{"y":{"field":"top","type":"quantitative","scale":{"domain":[1.56,61.92],"nice":false,"zero":false},"axis":null},"y2":{"field":"bot"}}},
{"data":{"values":[{"i":216.25,"top":61.92,"bot":61.92},{"i":330.4,"top":61.92,"bot":48.06}]},"mark":{"type":"area","color":"#fdfbe2"},"encoding":{"y":{"field":"top","type":"quantitative","scale":{"domain":[1.56,61.92],"nice":false,"zero":false},"axis":null},"y2":{"field":"bot"}}},
{"data":{"values":[{"i1":127.5,"i2":213.75,"v1":61.92,"v2":52.13},{"i1":183.75,"i2":269.6,"v1":52.13,"v2":40.92}]},"mark":{"type":"rect","color":"#ead6de","stroke":"#e05a78","strokeWidth":1},"encoding":{"x":{"field":"i1","type":"quantitative","scale":{"domain":[0,330.4],"nice":false,"zero":false}},"x2":{"field":"i2"},"y":{"field":"v1","type":"quantitative","scale":{"domain":[1.56,61.92],"nice":false,"zero":false},"axis":null},"y2":{"field":"v2"}}},
{"data":{"name":"ma"},"transform":[{"filter":"datum.i>=35"}],"mark":{"type":"area","color":"#b3d1a2","opacity":0.6,"clip":true},"encoding":{"y":{"field":"ku","type":"quantitative","scale":{"domain":[1.56,61.92],"nice":false,"zero":false},"axis":null},"y2":{"field":"kl"}}},
{"data":{"name":"tl"},"mark":{"type":"line","clip":true},"encoding":{"y":{"field":"v","type":"quantitative","scale":{"domain":[1.56,61.92],"nice":false,"zero":false},"axis":null},"detail":{"field":"id"},
"color":{"field":"k","type":"nominal","legend":null,"scale":{"domain":["black","dot","brown","hred","hred2","hblack","reddd","redthin","teal","tealthin","odot","vorange"],"range":["#1a1a1a","#1a1a1a","#b8703a","#ee1111","#ee1111","#111111","#e8192c","#e8192c","#2b8c95","#3aa0a8","#e8903a","#f08a20"]}},
"strokeDash":{"field":"k","type":"nominal","legend":null,"scale":{"domain":["black","dot","brown","hred","hred2","hblack","reddd","redthin","teal","tealthin","odot","vorange"],"range":[[1,0],[2,2],[1,0],[1,0],[1,0],[1,0],[10,4,3,4],[5,3,1,3],[10,4,3,4],[7,4,2,4],[2,3],[1,0]]}},
"strokeWidth":{"field":"k","type":"nominal","legend":null,"scale":{"domain":["black","dot","brown","hred","hred2","hblack","reddd","redthin","teal","tealthin","odot","vorange"],"range":[1,1,1.3,1.2,2.5,1.2,2.6,1,2.2,1.2,1.2,1]}}}},
{"data":{"name":"ma"},"transform":[{"filter":"datum.i>=35"}],"mark":{"type":"line","color":"#5f9f55","strokeWidth":1,"clip":true},"encoding":{"y":{"field":"ku","type":"quantitative","scale":{"domain":[1.56,61.92],"nice":false,"zero":false},"axis":null}}},
{"data":{"name":"ma"},"mark":{"type":"line","color":"#5f9f55","strokeWidth":1,"clip":true},"encoding":{"y":{"field":"kl","type":"quantitative","scale":{"domain":[1.56,61.92],"nice":false,"zero":false},"axis":null}}},
{"data":{"name":"ma"},"mark":{"type":"line","color":"#40b8c0","strokeWidth":1,"clip":true},"encoding":{"y":{"field":"m100","type":"quantitative","scale":{"domain":[1.56,61.92],"nice":false,"zero":false},"axis":null}}},
{"data":{"name":"ma"},"mark":{"type":"line","color":"#f0a030","strokeWidth":1,"clip":true},"encoding":{"y":{"field":"m50","type":"quantitative","scale":{"domain":[1.56,61.92],"nice":false,"zero":false},"axis":null}}},
{"data":{"name":"ma"},"mark":{"type":"line","color":"#e03030","strokeWidth":1,"clip":true},"encoding":{"y":{"field":"m20","type":"quantitative","scale":{"domain":[1.56,61.92],"nice":false,"zero":false},"axis":null}}},
{"data":{"name":"c"},"mark":{"type":"rule","color":"#7a7a7a","strokeWidth":1,"clip":true},"encoding":{"y":{"field":"l","type":"quantitative","scale":{"domain":[1.56,61.92],"nice":false,"zero":false},"axis":null},"y2":{"field":"h"}}},
{"data":{"name":"c"},"mark":{"type":"bar","size":2,"clip":true},"encoding":{"y":{"field":"o","type":"quantitative","scale":{"domain":[1.56,61.92],"nice":false,"zero":false},"axis":null},"y2":{"field":"c"},"color":{"condition":{"test":"datum.c>=datum.o","value":"#36a836"},"value":"#b83a32"}}},
{"data":{"name":"ell"},"mark":{"type":"point","shape":"M -1 0 A 1 0.5 0 1 0 1 0 A 1 0.5 0 1 0 -1 0 Z","size":700,"filled":false,"strokeWidth":1.3,"clip":true},"encoding":{"y":{"field":"v","type":"quantitative","scale":{"domain":[1.56,61.92],"nice":false,"zero":false},"axis":null},"color":{"field":"k","type":"nominal","legend":null,"scale":{"domain":["teal","dred","orange"],"range":["#2b8c95","#c02838","#e8903a"]}}}},
{"data":{"values":[{"i1":119.2,"i2":160.8,"v1":21.9,"v2":15.43}]},"mark":{"type":"rect","color":"#a8c4f0","opacity":0.75,"stroke":"#ffffff","strokeWidth":1},"encoding":{"x":{"field":"i1","type":"quantitative","scale":{"domain":[0,330.4],"nice":false,"zero":false}},"x2":{"field":"i2"},"y":{"field":"v1","type":"quantitative","scale":{"domain":[1.56,61.92],"nice":false,"zero":false},"axis":null},"y2":{"field":"v2"}}},
{"data":{"values":[{"i":138.75,"v":24.2}]},"mark":{"type":"point","shape":"circle","size":2600,"filled":false,"stroke":"#f0a060","strokeWidth":4,"opacity":0.9},"encoding":{"y":{"field":"v","type":"quantitative","scale":{"domain":[1.56,61.92],"nice":false,"zero":false},"axis":null}}},
{"data":{"values":[{"i":252.5,"v":19.3}]},"mark":{"type":"point","shape":"circle","size":1850,"filled":false,"stroke":"#f5b400","strokeWidth":3.5},"encoding":{"y":{"field":"v","type":"quantitative","scale":{"domain":[1.56,61.92],"nice":false,"zero":false},"axis":null}}},
{"data":{"name":"arr"},"mark":{"type":"line","strokeWidth":4},"encoding":{"y":{"field":"v","type":"quantitative","scale":{"domain":[1.56,61.92],"nice":false,"zero":false},"axis":null},"detail":{"field":"id"},"color":{"field":"k","type":"nominal","legend":null,"scale":{"domain":["red","orange","reddot"],"range":["#e8102a","#f08a20","#e8102a"]}},"strokeDash":{"field":"k","type":"nominal","legend":null,"scale":{"domain":["red","orange","reddot"],"range":[[1,0],[1,0],[2,2]]}}}},
{"data":{"values":[{"i":137.9,"v":19.92}]},"mark":{"type":"point","shape":"triangle-right","size":160,"filled":true,"color":"#e8102a","opacity":1,"angle":41},"encoding":{"y":{"field":"v","type":"quantitative","scale":{"domain":[1.56,61.92],"nice":false,"zero":false},"axis":null}}},
{"data":{"values":[{"i":149.2,"v":25.63}]},"mark":{"type":"point","shape":"triangle-right","size":160,"filled":true,"color":"#f08a20","opacity":1,"angle":310},"encoding":{"y":{"field":"v","type":"quantitative","scale":{"domain":[1.56,61.92],"nice":false,"zero":false},"axis":null}}},
{"data":{"values":[{"i":162.9,"v":17.47},{"i":270,"v":11.76}]},"mark":{"type":"point","shape":"triangle-right","size":160,"filled":true,"color":"#e8102a","opacity":1,"angle":48},"encoding":{"y":{"field":"v","type":"quantitative","scale":{"domain":[1.56,61.92],"nice":false,"zero":false},"axis":null}}},
{"data":{"values":[{"i":272.5,"v":15.43}]},"mark":{"type":"point","shape":"triangle-right","size":160,"filled":true,"color":"#e8102a","opacity":1,"angle":12},"encoding":{"y":{"field":"v","type":"quantitative","scale":{"domain":[1.56,61.92],"nice":false,"zero":false},"axis":null}}},
{"data":{"name":"lab"},"mark":{"type":"text","align":"left","baseline":"bottom","fontSize":12,"dy":1},"encoding":{"y":{"field":"v","type":"quantitative","scale":{"domain":[1.56,61.92],"nice":false,"zero":false},"axis":null},"text":{"field":"t"},"color":{"field":"k","type":"nominal","legend":null,"scale":{"domain":["hred","hblack"],"range":["#e8101a","#111111"]}}}},
{"data":{"name":"ann"},"mark":{"type":"text","align":"left","baseline":"middle","fontSize":12},"encoding":{"y":{"field":"v","type":"quantitative","scale":{"domain":[1.56,61.92],"nice":false,"zero":false},"axis":null},"text":{"field":"t"},"color":{"field":"k","type":"nominal","legend":null,"scale":{"domain":["mm20","mm50","mm200","mm100","kelt","dred","teal","orange","navy"],"range":["#e03030","#f0b030","#7a8f7a","#40b8c0","#4a9a4a","#a8182c","#2b8c95","#e8903a","#1a3a80"]}}}},
{"data":{"values":[{"t":"PETROLE WTI (BARIL EN $) - abcbourse.com","i":0,"v":64.57}]},"mark":{"type":"text","align":"left","baseline":"middle","fontSize":12,"color":"#666666","clip":false},"encoding":{"y":{"field":"v","type":"quantitative","scale":{"domain":[1.56,61.92],"nice":false,"zero":false},"axis":null},"text":{"field":"t"}}},
{"data":{"values":[{"t":"2 ANS - JOUR","i":330.4,"v":64.57}]},"mark":{"type":"text","align":"right","baseline":"middle","fontSize":12,"color":"#666666","clip":false},"encoding":{"y":{"field":"v","type":"quantitative","scale":{"domain":[1.56,61.92],"nice":false,"zero":false},"axis":null},"text":{"field":"t"}}},
{"data":{"values":[{"i1":330.8,"i2":352,"v1":20.47,"v2":16.94,"k":"box"},{"i1":330.8,"i2":352,"v1":16.94,"v2":16.5,"k":"line"}]},"mark":{"type":"rect","clip":false},"encoding":{"x":{"field":"i1","type":"quantitative","scale":{"domain":[0,330.4],"nice":false,"zero":false}},"x2":{"field":"i2"},"y":{"field":"v1","type":"quantitative","scale":{"domain":[1.56,61.92],"nice":false,"zero":false},"axis":null},"y2":{"field":"v2"},"color":{"field":"k","type":"nominal","legend":null,"scale":{"domain":["box","line"],"range":["#3d6ff2","#cc0000"]}}}},
{"data":{"values":[{"t":"18.33","i":332,"v":18.7}]},"mark":{"type":"text","align":"left","baseline":"middle","fontSize":13,"color":"#ffffff","clip":false},"encoding":{"y":{"field":"v","type":"quantitative","scale":{"domain":[1.56,61.92],"nice":false,"zero":false},"axis":null},"text":{"field":"t"}}}
]
},
{
"width":792,"height":45,
"resolve":{"scale":{"color":"independent"}},
"encoding":{"x":{"field":"i","type":"quantitative","scale":{"domain":[0,330.4],"nice":false,"zero":false},"axis":{"values":[34.2,66.8,99.4,132,164.6,197.2,229.8,262.4,295,327.6],"grid":true,"labels":false,"title":null}}},
"layer":[
{"data":{"name":"macd"},"mark":{"type":"area","color":"#d05050","opacity":0.45},"encoding":{"y":{"field":"h","type":"quantitative","scale":{"domain":[-8.5,7.6],"nice":false,"zero":false},"axis":{"orient":"right","values":[0],"format":".3f","grid":true,"title":null,"labelPadding":6}},"y2":{"datum":0}}},
{"data":{"name":"macd"},"mark":{"type":"line","color":"#d03030","strokeWidth":1.2},"encoding":{"y":{"field":"s","type":"quantitative","scale":{"domain":[-8.5,7.6],"nice":false,"zero":false},"axis":null}}},
{"data":{"name":"macd"},"mark":{"type":"line","color":"#2020d0","strokeWidth":1.2},"encoding":{"y":{"field":"m","type":"quantitative","scale":{"domain":[-8.5,7.6],"nice":false,"zero":false},"axis":null}}},
{"data":{"values":[{"t":"MACD (12, 26, 9)","i":1.5,"v":5.0}]},"mark":{"type":"text","align":"left","baseline":"middle","fontSize":12,"color":"#1010c0"},"encoding":{"y":{"field":"v","type":"quantitative","scale":{"domain":[-8.5,7.6],"nice":false,"zero":false},"axis":null},"text":{"field":"t"}}},
{"data":{"values":[{"i1":330.8,"i2":352,"v1":-1.25,"v2":-7.44,"k":"box"},{"i1":330.8,"i2":352,"v1":-7.44,"v2":-8.16,"k":"line"}]},"mark":{"type":"rect","clip":false},"encoding":{"x":{"field":"i1","type":"quantitative","scale":{"domain":[0,330.4],"nice":false,"zero":false}},"x2":{"field":"i2"},"y":{"field":"v1","type":"quantitative","scale":{"domain":[-8.5,7.6],"nice":false,"zero":false},"axis":null},"y2":{"field":"v2"},"color":{"field":"k","type":"nominal","legend":null,"scale":{"domain":["box","line"],"range":["#0000aa","#cc0000"]}}}},
{"data":{"values":[{"t":"-3.920","i":332,"v":-4.35}]},"mark":{"type":"text","align":"left","baseline":"middle","fontSize":13,"color":"#ffffff","clip":false},"encoding":{"y":{"field":"v","type":"quantitative","scale":{"domain":[-8.5,7.6],"nice":false,"zero":false},"axis":null},"text":{"field":"t"}}}
]
},
{
"width":792,"height":57,
"resolve":{"scale":{"color":"independent"}},
"encoding":{"x":{"field":"i","type":"quantitative","scale":{"domain":[0,330.4],"nice":false,"zero":false},"axis":{"values":[34.2,66.8,99.4,132,164.6,197.2,229.8,262.4,295,327.6],"grid":true,"labels":false,"title":null}}},
"layer":[
{"data":{"name":"dmi"},"mark":{"type":"line","color":"#2a962a","strokeWidth":1.2},"encoding":{"y":{"field":"p","type":"quantitative","scale":{"domain":[0,92.4],"nice":false,"zero":false},"axis":{"orient":"right","values":[0,60],"labelExpr":"datum.value==0?'0.000':format(datum.value,'.2f')","grid":true,"title":null,"labelPadding":6}}}},
{"data":{"name":"dmi"},"mark":{"type":"line","color":"#d42a2a","strokeWidth":1.2},"encoding":{"y":{"field":"n","type":"quantitative","scale":{"domain":[0,92.4],"nice":false,"zero":false},"axis":null}}},
{"data":{"name":"dmi"},"mark":{"type":"line","color":"#222222","strokeWidth":1.2},"encoding":{"y":{"field":"a","type":"quantitative","scale":{"domain":[0,92.4],"nice":false,"zero":false},"axis":null}}},
{"data":{"values":[{"t":"DMI (14)","i":1.5,"v":79}]},"mark":{"type":"text","align":"left","baseline":"middle","fontSize":12,"color":"#208020"},"encoding":{"y":{"field":"v","type":"quantitative","scale":{"domain":[0,92.4],"nice":false,"zero":false},"axis":null},"text":{"field":"t"}}},
{"data":{"values":[{"i1":330.8,"i2":352,"v1":48.6,"v2":42.1,"k":"line"},{"i1":330.8,"i2":352,"v1":42.1,"v2":16.2,"k":"box"}]},"mark":{"type":"rect","clip":false},"encoding":{"x":{"field":"i1","type":"quantitative","scale":{"domain":[0,330.4],"nice":false,"zero":false}},"x2":{"field":"i2"},"y":{"field":"v1","type":"quantitative","scale":{"domain":[0,92.4],"nice":false,"zero":false},"axis":null},"y2":{"field":"v2"},"color":{"field":"k","type":"nominal","legend":null,"scale":{"domain":["box","line"],"range":["#0a8a0a","#cc0000"]}}}},
{"data":{"values":[{"t":"18.14","i":332,"v":29.2}]},"mark":{"type":"text","align":"left","baseline":"middle","fontSize":13,"color":"#ffffff","clip":false},"encoding":{"y":{"field":"v","type":"quantitative","scale":{"domain":[0,92.4],"nice":false,"zero":false},"axis":null},"text":{"field":"t"}}}
]
},
{
"width":792,"height":42,
"resolve":{"scale":{"color":"independent"}},
"encoding":{"x":{"field":"i","type":"quantitative","scale":{"domain":[0,330.4],"nice":false,"zero":false},"axis":{"values":[34.2,66.8,99.4,132,164.6,197.2,229.8,262.4,295,327.6],"grid":true,"labels":false,"title":null}}},
"layer":[
{"data":{"name":"sto"},"mark":{"type":"line","color":"#e02020","strokeWidth":1.3},"encoding":{"y":{"field":"d","type":"quantitative","scale":{"domain":[-14.3,185.7],"nice":false,"zero":false},"axis":{"orient":"right","values":[0],"format":".3f","grid":true,"title":null,"labelPadding":6}}}},
{"data":{"name":"sto"},"mark":{"type":"line","color":"#2020e0","strokeWidth":1.3},"encoding":{"y":{"field":"k","type":"quantitative","scale":{"domain":[-14.3,185.7],"nice":false,"zero":false},"axis":null}}},
{"data":{"values":[{"t":"STO (14, 5)","i":1.5,"v":143}]},"mark":{"type":"text","align":"left","baseline":"middle","fontSize":12,"color":"#1010c0"},"encoding":{"y":{"field":"v","type":"quantitative","scale":{"domain":[-14.3,185.7],"nice":false,"zero":false},"axis":null},"text":{"field":"t"}}},
{"data":{"values":[{"i1":330.8,"i2":352,"v1":85.2,"v2":75.7,"k":"line"},{"i1":330.8,"i2":352,"v1":75.7,"v2":-5.2,"k":"box"}]},"mark":{"type":"rect","clip":false},"encoding":{"x":{"field":"i1","type":"quantitative","scale":{"domain":[0,330.4],"nice":false,"zero":false}},"x2":{"field":"i2"},"y":{"field":"v1","type":"quantitative","scale":{"domain":[-14.3,185.7],"nice":false,"zero":false},"axis":null},"y2":{"field":"v2"},"color":{"field":"k","type":"nominal","legend":null,"scale":{"domain":["box","line"],"range":["#0000ff","#cc0000"]}}}},
{"data":{"values":[{"t":"10.73","i":332,"v":35.2}]},"mark":{"type":"text","align":"left","baseline":"middle","fontSize":13,"color":"#ffffff","clip":false},"encoding":{"y":{"field":"v","type":"quantitative","scale":{"domain":[-14.3,185.7],"nice":false,"zero":false},"axis":null},"text":{"field":"t"}}}
]
},
{
"width":792,"height":80,
"resolve":{"scale":{"color":"independent"},"axis":{"y":"independent"}},
"encoding":{"x":{"field":"i","type":"quantitative","scale":{"domain":[0,330.4],"nice":false,"zero":false},"axis":{"values":[34.2,66.8,99.4,132,164.6,197.2,229.8,262.4,295,327.6],"grid":true,"labels":true,"title":null,"labelExpr":"['05/2019','07/2019','08/2019','10/2019','11/2019','01/2020','03/2020','04/2020','06/2020','07/2020'][round((datum.value-34.2)/32.6)]","labelPadding":4,"labelFlush":false,"zindex":1}}},
"layer":[
{"data":{"values":[{"i1":0,"i2":330.4,"v1":70,"v2":100,"k":"hi"},{"i1":0,"i2":330.4,"v1":0,"v2":30,"k":"lo"}]},"mark":{"type":"rect"},"encoding":{"x":{"field":"i1","type":"quantitative","scale":{"domain":[0,330.4],"nice":false,"zero":false}},"x2":{"field":"i2"},"y":{"field":"v1","type":"quantitative","scale":{"domain":[0,100],"nice":false,"zero":false},"axis":null},"y2":{"field":"v2"},"color":{"field":"k","type":"nominal","legend":null,"scale":{"domain":["hi","lo"],"range":["#fbd9d9","#d9ecd9"]}}}},
{"data":{"values":[{"i1":0,"i2":330.4,"v":80,"k":"gr"},{"i1":0,"i2":330.4,"v":40,"k":"gr"}]},"mark":{"type":"rule","strokeWidth":1,"color":"#d4d4dc"},"encoding":{"x":{"field":"i1","type":"quantitative","scale":{"domain":[0,330.4],"nice":false,"zero":false}},"x2":{"field":"i2"},"y":{"field":"v","type":"quantitative","scale":{"domain":[0,100],"nice":false,"zero":false},"axis":null}}},
{"data":{"values":[{"i1":0,"i2":330.4,"v":70,"k":"r"},{"i1":0,"i2":330.4,"v":50,"k":"b"},{"i1":0,"i2":330.4,"v":30,"k":"g"}]},"mark":{"type":"rule","strokeWidth":1.5},"encoding":{"x":{"field":"i1","type":"quantitative","scale":{"domain":[0,330.4],"nice":false,"zero":false}},"x2":{"field":"i2"},"y":{"field":"v","type":"quantitative","scale":{"domain":[0,100],"nice":false,"zero":false},"axis":null},"color":{"field":"k","type":"nominal","legend":null,"scale":{"domain":["r","b","g"],"range":["#ff3030","#8cc4ff","#30a030"]}}}},
{"data":{"name":"rsi"},"mark":{"type":"line","color":"#1a1ab0","strokeWidth":1.1},"encoding":{"y":{"field":"r","type":"quantitative","scale":{"domain":[0,100],"nice":false,"zero":false},"axis":{"orient":"right","values":[0,80],"labelExpr":"datum.value==0?'0.000':format(datum.value,'.2f')","grid":false,"title":null,"labelPadding":6,"labelOffset":-4}}}},
{"data":{"values":[{"t":"RSI (14)","i":1.5,"v":86}]},"mark":{"type":"text","align":"left","baseline":"middle","fontSize":12,"color":"#1010c0"},"encoding":{"y":{"field":"v","type":"quantitative","scale":{"domain":[0,100],"nice":false,"zero":false},"axis":null},"text":{"field":"t"}}},
{"data":{"values":[{"i1":330.8,"i2":352,"v1":51.25,"v2":31.25}]},"mark":{"type":"rect","color":"#0000aa","clip":false},"encoding":{"x":{"field":"i1","type":"quantitative","scale":{"domain":[0,330.4],"nice":false,"zero":false}},"x2":{"field":"i2"},"y":{"field":"v1","type":"quantitative","scale":{"domain":[0,100],"nice":false,"zero":false},"axis":null},"y2":{"field":"v2"}}},
{"data":{"values":[{"t":"32.38","i":332,"v":41.25}]},"mark":{"type":"text","align":"left","baseline":"middle","fontSize":13,"color":"#ffffff","clip":false},"encoding":{"y":{"field":"v","type":"quantitative","scale":{"domain":[0,100],"nice":false,"zero":false},"axis":null},"text":{"field":"t"}}}
]
}
]
}
